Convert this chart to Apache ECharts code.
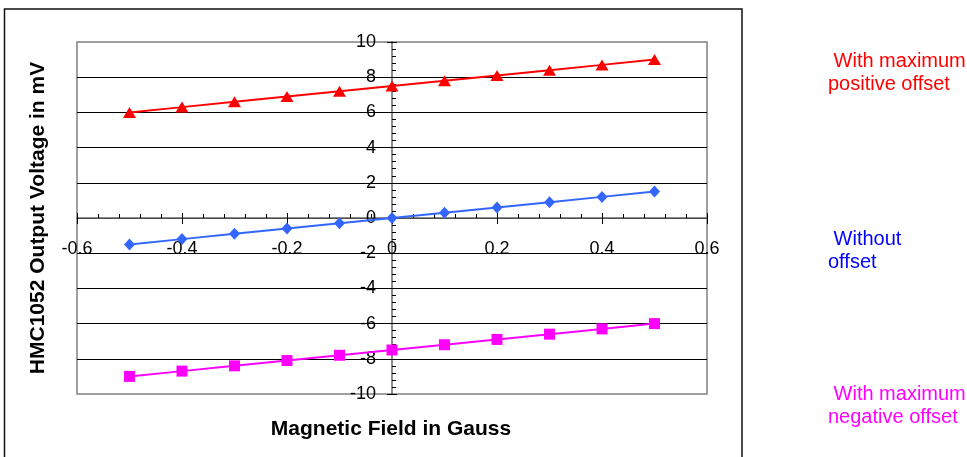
<!DOCTYPE html>
<html>
<head>
<meta charset="utf-8">
<script src="https://cdn.jsdelivr.net/npm/echarts@6/dist/echarts.min.js"></script>
<style>
html,body{margin:0;padding:0;background:#fff;}
#chart{width:967px;height:457px;}
</style>
</head>
<body>
<div id="chart"></div>
<script>
// ---- Data ----
const fieldGauss = [-0.5, -0.4, -0.3, -0.2, -0.1, 0, 0.1, 0.2, 0.3, 0.4, 0.5];
const positiveOffset = [6.0, 6.3, 6.6, 6.9, 7.2, 7.5, 7.8, 8.1, 8.4, 8.7, 9.0];
const withoutOffset = [-1.5, -1.2, -0.9, -0.6, -0.3, 0, 0.3, 0.6, 0.9, 1.2, 1.5];
const negativeOffset = [-9.0, -8.7, -8.4, -8.1, -7.8, -7.5, -7.2, -6.9, -6.6, -6.3, -6.0];
const seriesNames = ['With maximum positive offset', 'Without offset', 'With maximum negative offset'];
const xAxisTitle = 'Magnetic Field in Gauss';
const yAxisTitle = 'HMC1052 Output Voltage in mV';
const noteRed = [' With maximum', 'positive offset'];
const noteBlue = [' Without', 'offset'];
const noteMagenta = [' With maximum', 'negative offset'];
const xRange = [-0.6, 0.6], xStep = 0.2;
const yRange = [-10, 10], yStep = 2;

const FONT = '"Liberation Sans", Arial, sans-serif';
const zip = (xs, ys) => xs.map((x, i) => [x, ys[i]]);

const chart = echarts.init(document.getElementById('chart'), null, {renderer: 'canvas'});

function noteText(lines, x, y, color) {
  return lines.map((t, i) => ({
    type: 'text', x: x, y: y + i * 23,
    style: {text: t, font: '20px ' + FONT, fill: color, verticalAlign: 'middle'}
  }));
}

const tickLabelStyle = {color: '#000', fontSize: 18, fontFamily: FONT};
const hiddenAxis = {show: false};

// main plot grid; zero of both axes falls at its centre
const G = {left: 77, top: 42, right: 260, bottom: 63};
const W = 967 - G.left - G.right, H = 457 - G.top - G.bottom;

const option = {
  animation: false,
  backgroundColor: '#fff',
  grid: [
    {...G, show: true, borderColor: '#808080', borderWidth: 1.5, backgroundColor: 'transparent', containLabel: false, outerBoundsMode: 'none'},
    // label carrier for x ticks: bottom edge sits on y = 0
    {left: G.left, right: G.right, top: G.top, bottom: G.bottom + H / 2, show: false, containLabel: false, outerBoundsMode: 'none'},
    // label carrier for y ticks: left edge sits on x = 0
    {left: G.left + W / 2, right: G.right, top: G.top, bottom: G.bottom, show: false, containLabel: false, outerBoundsMode: 'none'}
  ],
  xAxis: [
    {
      gridIndex: 0, type: 'value', min: xRange[0], max: xRange[1], interval: xStep, position: 'bottom',
      axisLine: {show: true, onZero: true, lineStyle: {color: '#666', width: 1.5}},
      axisTick: {show: true, inside: true, length: 5, lineStyle: {color: '#000', width: 1}},
      minorTick: {show: true, splitNumber: 5, length: 4, lineStyle: {color: '#000', width: 1}},
      axisLabel: {show: false},
      splitLine: {show: false}
    },
    {
      gridIndex: 0, type: 'value', min: xRange[0], max: xRange[1], interval: xStep, position: 'bottom',
      axisLine: {show: false, onZero: true, onZeroAxisIndex: 0},
      axisTick: {show: true, inside: false, length: 6, lineStyle: {color: '#000', width: 1}},
      axisLabel: {show: false},
      splitLine: {show: false}
    },
    {
      gridIndex: 1, type: 'value', min: xRange[0], max: xRange[1], interval: xStep, position: 'bottom',
      axisLine: {show: false, onZero: false}, axisTick: {show: false}, splitLine: {show: false},
      axisLabel: {show: true, margin: 22, showMinLabel: true, showMaxLabel: true, ...tickLabelStyle}
    },
    {gridIndex: 2, type: 'value', min: 0, max: 1, ...hiddenAxis}
  ],
  yAxis: [
    {
      gridIndex: 0, type: 'value', min: yRange[0], max: yRange[1], interval: yStep, position: 'left',
      axisLine: {show: true, onZero: true, lineStyle: {color: '#666', width: 1.5}},
      axisTick: {show: true, inside: true, length: 5, lineStyle: {color: '#000', width: 1}},
      minorTick: {show: true, splitNumber: 5, length: 4, lineStyle: {color: '#000', width: 1}},
      axisLabel: {show: false},
      splitLine: {show: true, showMinLine: false, showMaxLine: false, lineStyle: {color: '#000', width: 1}}
    },
    {
      gridIndex: 0, type: 'value', min: yRange[0], max: yRange[1], interval: yStep, position: 'left',
      axisLine: {show: false, onZero: true, onZeroAxisIndex: 0},
      axisTick: {show: true, inside: false, length: 5, lineStyle: {color: '#000', width: 1}},
      axisLabel: {show: false},
      splitLine: {show: false}
    },
    {gridIndex: 1, type: 'value', min: 0, max: 1, ...hiddenAxis},
    {
      gridIndex: 2, type: 'value', min: yRange[0], max: yRange[1], interval: yStep, position: 'left',
      axisLine: {show: false, onZero: false}, axisTick: {show: false}, splitLine: {show: false},
      axisLabel: {show: true, margin: 16, showMinLabel: true, showMaxLabel: true, ...tickLabelStyle}
    }
  ],
  series: [
    {
      name: seriesNames[0], type: 'line', xAxisIndex: 0, yAxisIndex: 0,
      data: zip(fieldGauss, positiveOffset),
      symbol: 'triangle', symbolSize: [13, 11], showAllSymbol: true,
      lineStyle: {color: '#FF0000', width: 2}, itemStyle: {color: '#FF0000'}, z: 5
    },
    {
      name: seriesNames[1], type: 'line', xAxisIndex: 0, yAxisIndex: 0,
      data: zip(fieldGauss, withoutOffset),
      symbol: 'diamond', symbolSize: [11, 12], showAllSymbol: true,
      lineStyle: {color: '#3366FF', width: 2}, itemStyle: {color: '#3366FF'}, z: 5
    },
    {
      name: seriesNames[2], type: 'line', xAxisIndex: 0, yAxisIndex: 0,
      data: zip(fieldGauss, negativeOffset),
      symbol: 'rect', symbolSize: [11, 11], showAllSymbol: true,
      lineStyle: {color: '#FF00FF', width: 2}, itemStyle: {color: '#FF00FF'}, z: 5
    }
  ],
  graphic: [
    {type: 'rect', shape: {x: 4.5, y: 9, width: 737.5, height: 460}, style: {fill: 'none', stroke: '#111', lineWidth: 1.5}, silent: true},
    {type: 'text', x: 391, y: 429,
     style: {text: xAxisTitle, font: 'bold 21px ' + FONT, fill: '#000', align: 'center', verticalAlign: 'middle'}},
    {type: 'text', x: 38, y: 218, rotation: Math.PI / 2,
     style: {text: yAxisTitle, font: 'bold 21px ' + FONT, fill: '#000', align: 'center', verticalAlign: 'middle'}},
    ...noteText(noteRed, 828, 61, '#FF0000'),
    ...noteText(noteBlue, 828, 239, '#0000FF'),
    ...noteText(noteMagenta, 828, 394, '#FF00FF')
  ]
};
chart.setOption(option);
</script>
</body>
</html>
